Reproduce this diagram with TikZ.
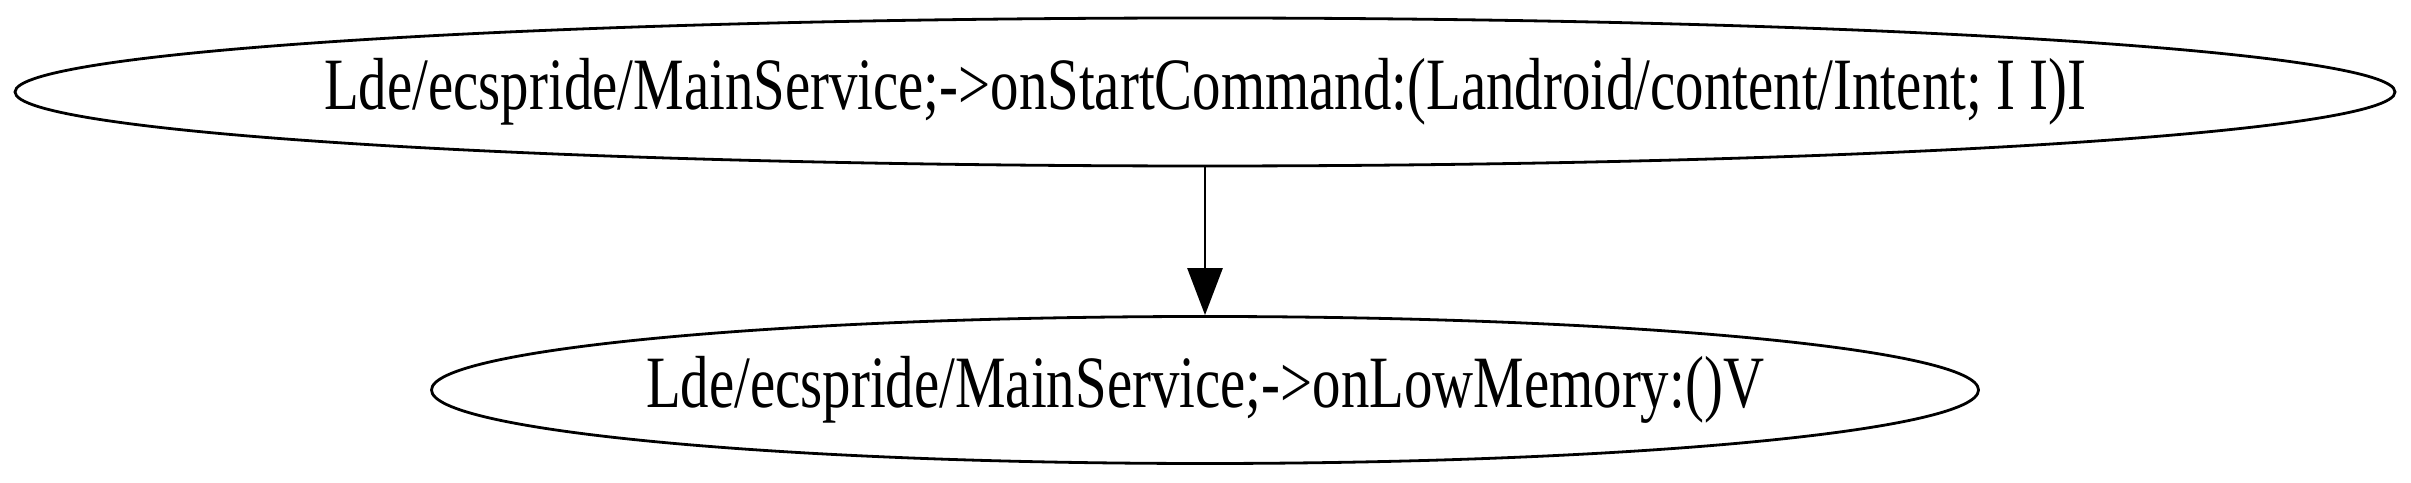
\documentclass[tikz,border=0pt]{standalone}
\usepackage{fontspec}
\setmainfont{Liberation Serif}[FakeStretch=0.77]
\usepackage{tikz}
\usetikzlibrary{calc,positioning}
\usetikzlibrary{arrows.meta,shapes.geometric}

\tikzset{
  callnode/.style={ellipse,draw,line width=0.28mm,inner sep=0pt},
  calltext/.style={inner sep=0pt,font=\fontsize{21pt}{25pt}\selectfont},
  callarrow/.style={-{Triangle[length=4.7mm,width=3.5mm]},line width=0.28mm}
}

\begin{document}
\begin{tikzpicture}
								 % \draw[color=gray,step=1mm, help lines,opacity=0.3] (0pt,0pt) grid (241.1mm,48.3mm); %help grids
								 \useasboundingbox (0mm,0mm) rectangle (241.1mm,48.3mm);
								 \node[callnode,minimum width=238mm,minimum height=14.8mm] (startcmd) at (120.5mm,39.1mm) {};
								 \node[callnode,minimum width=154.7mm,minimum height=14.7mm] (lowmem) at (120.5mm,9.3mm) {};
								 \node[calltext] (startcmdtext) at (startcmd) {Lde/ecspride/MainService;->onStartCommand:(Landroid/content/Intent; I I)I};
								 \node[calltext] (lowmemtext) at (lowmem) {Lde/ecspride/MainService;->onLowMemory:()V};
								 \draw[callarrow] (startcmd.south)--(lowmem.north);
				\end{tikzpicture}
\end{document}
